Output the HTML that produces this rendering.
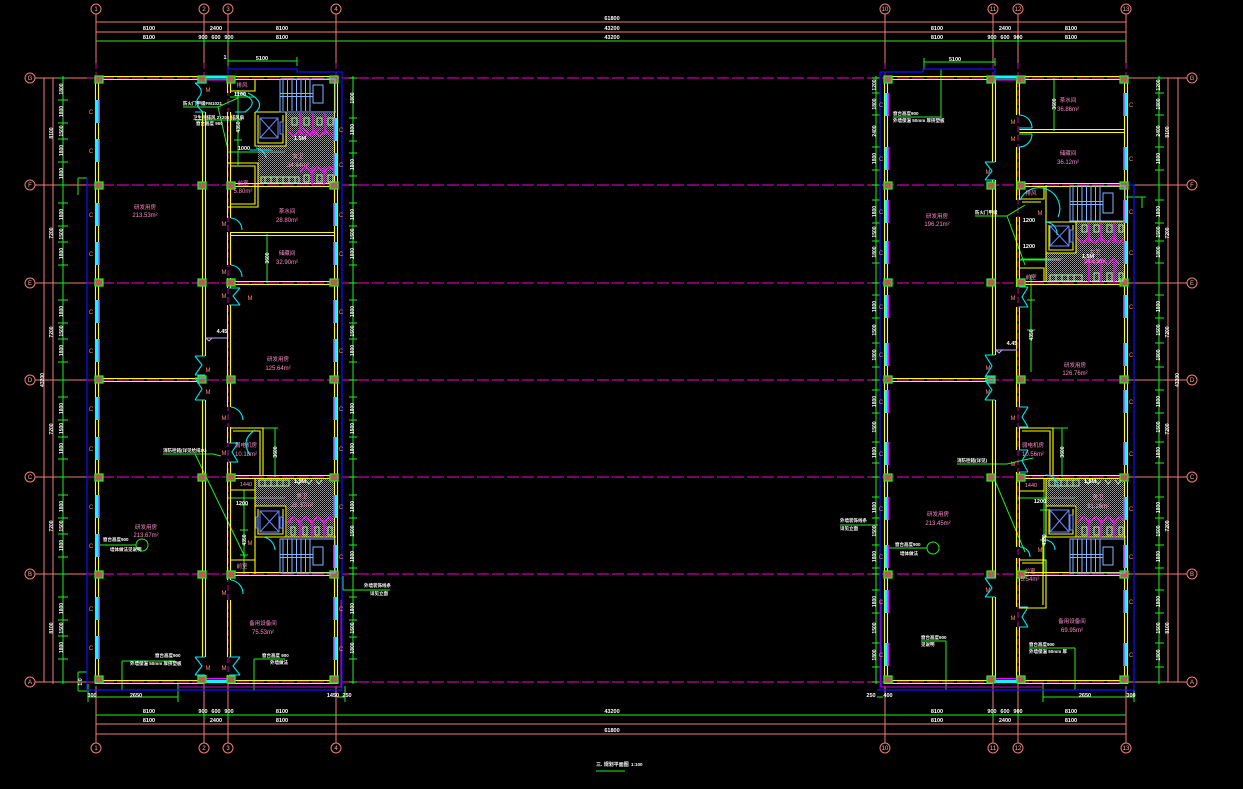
<!DOCTYPE html>
<html><head><meta charset="utf-8">
<style>
html,body{margin:0;padding:0;background:#000;width:1243px;height:789px;overflow:hidden}
svg{display:block}
text{font-family:"Liberation Sans","Noto Sans CJK SC",sans-serif}
</style></head>
<body>
<svg width="1243" height="789" viewBox="0 0 1243 789" xmlns="http://www.w3.org/2000/svg">
<defs>
<pattern id="dots" width="2" height="2" patternUnits="userSpaceOnUse"><rect width="1" height="1" fill="#a0a0a0"/><rect x="1" y="1" width="1" height="1" fill="#7a7a7a"/></pattern>
</defs>
<rect width="1243" height="789" fill="#000"/>

<!-- horizontal grid axes -->
<g stroke="#c800a8" stroke-width="1.2" stroke-dasharray="12 3" fill="none">
<path d="M87 78H1130M87 185H1130M87 283H1130M87 380H1130M87 477H1130M87 574H1130M87 682H1130"/>
</g>
<g stroke="#f07c78" stroke-width="1" fill="none">
<path d="M35 78H87M35 185H87M35 283H87M35 380H87M35 477H87M35 574H87M35 682H87"/>
<path d="M1127 78H1187M1127 185H1187M1127 283H1187M1127 380H1187M1127 477H1187M1127 574H1187M1127 682H1187"/>
<path d="M96 14V63M204 14V63M228 14V63M336 14V63M885 14V63M993 14V63M1018 14V63M1126 14V63"/>
<path d="M96 686V743M204 684V743M228 684V743M336 686V743M885 686V743M993 684V743M1018 684V743M1126 686V743"/>
<path d="M96 22H1126M96 32H1126M96 724H1126M96 734H1126"/>
<path d="M44 78V682M53 78V684M1168 78V682M1178 78V682"/>
<circle cx="96" cy="9" r="5"/><circle cx="204" cy="9" r="5"/><circle cx="228" cy="9" r="5"/><circle cx="336" cy="9" r="5"/>
<circle cx="885" cy="9" r="5"/><circle cx="993" cy="9" r="5"/><circle cx="1018" cy="9" r="5"/><circle cx="1126" cy="9" r="5"/>
<circle cx="96" cy="748" r="5"/><circle cx="204" cy="748" r="5"/><circle cx="228" cy="748" r="5"/><circle cx="336" cy="748" r="5"/>
<circle cx="885" cy="748" r="5"/><circle cx="993" cy="748" r="5"/><circle cx="1018" cy="748" r="5"/><circle cx="1126" cy="748" r="5"/>
<circle cx="30" cy="78" r="5"/><circle cx="30" cy="185" r="5"/><circle cx="30" cy="283" r="5"/><circle cx="30" cy="380" r="5"/><circle cx="30" cy="477" r="5"/><circle cx="30" cy="574" r="5"/><circle cx="30" cy="682" r="5"/>
<circle cx="1192" cy="78" r="5"/><circle cx="1192" cy="185" r="5"/><circle cx="1192" cy="283" r="5"/><circle cx="1192" cy="380" r="5"/><circle cx="1192" cy="477" r="5"/><circle cx="1192" cy="574" r="5"/><circle cx="1192" cy="682" r="5"/>
</g>
<g stroke="#c800a8" stroke-width="1" stroke-dasharray="6 3" fill="none">
<path d="M96 63V76M204 63V76M228 63V682M336 63V76M885 63V76M993 63V76M1018 63V682M1126 63V76"/>
</g>
<g fill="#f8b0a8" font-size="6" text-anchor="middle">
<text x="96" y="11">1</text><text x="204" y="11">2</text><text x="228" y="11">3</text><text x="336" y="11">4</text>
<text x="885" y="11">10</text><text x="993" y="11">11</text><text x="1018" y="11">12</text><text x="1126" y="11">13</text>
<text x="96" y="750">1</text><text x="204" y="750">2</text><text x="228" y="750">3</text><text x="336" y="750">4</text>
<text x="885" y="750">10</text><text x="993" y="750">11</text><text x="1018" y="750">12</text><text x="1126" y="750">13</text>
<text x="30" y="80">G</text><text x="30" y="187">F</text><text x="30" y="285">E</text><text x="30" y="382">D</text><text x="30" y="479">C</text><text x="30" y="576">B</text><text x="30" y="684">A</text>
<text x="1192" y="80">G</text><text x="1192" y="187">F</text><text x="1192" y="285">E</text><text x="1192" y="382">D</text><text x="1192" y="479">C</text><text x="1192" y="576">B</text><text x="1192" y="684">A</text>
</g>

<!-- green dims -->
<g stroke="#22ee22" stroke-width="1" fill="none">
<path d="M96 41H1126M96 715H1126"/>
<path d="M204 38V46M228 38V46M993 38V46M1018 38V46M204 712V720M228 712V720M993 712V720M1018 712V720"/>
<path d="M63 76V684M353 76V684M876 76V684M1159 76V684"/>
<path d="M58 78h10M58 100h10M58 123h10M58 139h10M58 162h10M58 185h10M58 203h10M58 226h10M58 242h10M58 265h10M58 283h10M58 300h10M58 323h10M58 339h10M58 362h10M58 380h10M58 397h10M58 420h10M58 437h10M58 459h10M58 477h10M58 495h10M58 518h10M58 534h10M58 557h10M58 574h10M58 597h10M58 620h10M58 636h10M58 659h10M58 682h10"/>
<path d="M349 78h8M349 118h8M349 141h8M349 153h8M349 176h8M349 185h8M349 203h8M349 226h8M349 242h8M349 265h8M349 283h8M349 300h8M349 323h8M349 339h8M349 362h8M349 380h8M349 397h8M349 420h8M349 437h8M349 459h8M349 477h8M349 495h8M349 518h8M349 545h8M349 568h8M349 574h8M349 597h8M349 620h8M349 637h8M349 659h8M349 682h8"/>
<path d="M872 78h8M872 93h8M872 115h8M872 147h8M872 170h8M872 185h8M872 200h8M872 223h8M872 241h8M872 263h8M872 283h8M872 295h8M872 318h8M872 343h8M872 367h8M872 380h8M872 390h8M872 413h8M872 442h8M872 463h8M872 477h8M872 497h8M872 518h8M872 545h8M872 568h8M872 574h8M872 590h8M872 613h8M872 643h8M872 667h8M872 682h8"/>
<path d="M1155 78h9M1155 93h9M1155 115h9M1155 147h9M1155 170h9M1155 185h9M1155 200h9M1155 223h9M1155 241h9M1155 263h9M1155 283h9M1155 295h9M1155 318h9M1155 343h9M1155 367h9M1155 380h9M1155 390h9M1155 413h9M1155 442h9M1155 463h9M1155 477h9M1155 497h9M1155 518h9M1155 545h9M1155 568h9M1155 574h9M1155 590h9M1155 613h9M1155 643h9M1155 667h9M1155 682h9"/>
<path d="M228 61H297M228 57V66M297 57V66M924 62H995M924 58V70M995 58V66"/>
<path d="M88 697H178M88 684V702M178 684V702M337 697H345M345 686V702"/>
<path d="M1043 697H1134M1043 684V702M1134 684V702M877 697H883"/>
<path d="M78 672H87M78 672V691M78 691H87M78 178H87M78 178V195"/>
<path d="M267 234V283M1054 78V131M275 428V477M263 428H278M1062 428V477M1053 428H1068"/>
<path d="M244 490V574M240 505h8M240 530h8M240 555h8M228 498H285M238 90V165M230 97H255M228 152H285M234 120h8M234 140h8"/>
<path d="M1031 275V372M1027 300h8M1027 330h8M1021 259H1062M1044 490V574M1040 510h8M1040 540h8M1018 498H1075M1020 260H1060"/>
<path d="M183 107H218L238 98M195 120H240M218 107L228 150M163 454H213L221 456M195 454L245 557"/>
<path d="M98 545H136M142 545m-6 0a6 6 0 1 0 12 0a6 6 0 1 0 -12 0M122 661H175M122 661V690M254 659H285M254 659V691M343 590H390M343 590V576"/>
<path d="M893 117H941M941 69V118M975 216H1007L1025 205M1007 216L1025 265M957 464H1007L1033 458M993 476L1025 552"/>
<path d="M840 525H878M888 548H927M933 548m-6 0a6 6 0 1 0 12 0a6 6 0 1 0 -12 0M921 641H946M946 641V690M1029 648H1075M1075 648V690"/>
<path d="M1126 197H1146M1142 197V208"/>
</g>

<!-- blue outline -->
<g stroke="#1010ff" stroke-width="1.2" fill="none">
<path d="M87 178V690H342V72H297V69H228V80"/>
<path d="M880 690V72H923V69H995V78"/>
<path d="M877 690H1134V185H1126"/>
</g>
<g stroke="#d000d0" stroke-width="1" fill="none">
<path d="M178 687H341V600M881 687H1043M881 600V687"/>
</g>

<!-- restroom dotted areas -->
<g fill="url(#dots)">
<polygon points="286,113 334,113 334,183 258,183 258,146 286,146"/>
<polygon points="255,479 334,479 334,537 287,537 287,506 255,506"/>
<polygon points="1076,223 1124,223 1124,282 1046,282 1046,253 1076,253"/>
<polygon points="1046,479 1124,479 1124,537 1077,537 1077,506 1046,506"/>
</g>

<!-- walls -->
<g stroke="#ffff00" stroke-width="1.1" fill="none">
<path d="M95.5 76.5H204M228 76.5H337.5V683.5H228M204 683.5H95.5V76.5"/>
<path d="M98.5 79.5H204M228 79.5H334.5V680.5H228M204 680.5H98.5V79.5"/>
<path d="M202.5 79.5V83M202.5 112V356M202.5 400V657M202.5 675V680.5M205.5 79.5V83M205.5 112V356M205.5 400V657M205.5 675V680.5"/>
<path d="M227.5 79.5V93M227.5 112V218M227.5 232V265M227.5 278V288M227.5 305V407M227.5 427V443M227.5 462V580M227.5 600V657M227.5 675V680.5"/>
<path d="M230.5 79.5V93M230.5 112V218M230.5 232V265M230.5 278V288M230.5 305V407M230.5 427V443M230.5 462V580M230.5 600V657M230.5 675V680.5"/>
<path d="M98.5 378.5H202.5M98.5 381.5H202.5"/>
<path d="M230.5 183.5H334.5M230.5 186.5H334.5M230.5 232.5H334.5M230.5 235.5H334.5M230.5 281.5H334.5M230.5 284.5H334.5M230.5 475.5H334.5M230.5 478.5H334.5M230.5 572.5H334.5M230.5 575.5H334.5"/>
<path d="M255 112H336M255 112V146H286V112M258 115V143H283V115"/>
<path d="M230.5 91H255V79.5M228 163H258V207H228M231 166H255V204H231"/>
<path d="M230 428H263V476M233 431H260V476M230 490H255V478M255 478V506H286V537M255 506V537H286M258 509V534H283V509"/>
<path d="M255 537H336M255 537V574M230 560H255V574"/>
<path d="M884.5 76.5H993M1018 76.5H1127.5V683.5H1018M993 683.5H884.5V76.5"/>
<path d="M887.5 79.5H993M1018 79.5H1124.5V680.5H1018M993 680.5H887.5V79.5"/>
<path d="M992.5 79.5V162M992.5 180V355M992.5 400V578M992.5 597V680.5M995.5 79.5V162M995.5 180V355M995.5 400V578M995.5 597V680.5"/>
<path d="M1016.5 79.5V115M1016.5 147V200M1016.5 217V287M1016.5 307V407M1016.5 427V450M1016.5 472V547M1016.5 558V607M1016.5 627V680.5"/>
<path d="M1019.5 79.5V115M1019.5 147V200M1019.5 217V287M1019.5 307V407M1019.5 427V450M1019.5 472V547M1019.5 558V607M1019.5 627V680.5"/>
<path d="M887.5 378.5H992.5M887.5 381.5H992.5"/>
<path d="M1019.5 129.5H1124.5M1019.5 132.5H1124.5M1019.5 183.5H1124.5M1019.5 186.5H1124.5M1019.5 281.5H1124.5M1019.5 284.5H1124.5M1019.5 475.5H1124.5M1019.5 478.5H1124.5M1019.5 572.5H1124.5M1019.5 575.5H1124.5"/>
<path d="M1046 185V282M1046 222H1126M1046 222V253H1076V222M1049 225V250H1073V225"/>
<path d="M1019 199H1044V186M1019 268H1044V282M1022 202H1041"/>
<path d="M1019 428H1053V476M1022 431H1050V476M1019 491H1044V478M1046 478V506H1076V537M1046 506V537H1076M1049 509V534H1073V509"/>
<path d="M1043 537H1126M1043 537V575M1019 560H1046V608H1019M1022 563H1043V605"/>
</g>

<g fill="#00ffff">
<rect x="205" y="75.5" width="23" height="3"/><rect x="205" y="680" width="23" height="3"/>
<rect x="995" y="75.5" width="22" height="3"/><rect x="995" y="680" width="22" height="3"/>
</g>
<g fill="#ff00ff">
<rect x="205" y="79" width="23" height="1.5"/><rect x="205" y="678" width="23" height="1.5"/>
<rect x="995" y="79" width="22" height="1.5"/><rect x="995" y="678" width="22" height="1.5"/>
</g>

<!-- windows -->
<path fill="#00ffff" d="M95 100h3.5v23h-3.5zM95 139h3.5v23h-3.5zM95 203h3.5v23h-3.5zM95 242h3.5v23h-3.5zM95 300h3.5v23h-3.5zM95 339h3.5v23h-3.5zM95 397h3.5v23h-3.5zM95 437h3.5v23h-3.5zM95 495h3.5v23h-3.5zM95 534h3.5v23h-3.5zM95 597h3.5v23h-3.5zM95 636h3.5v23h-3.5z"/>
<path fill="#ff00ff" d="M98.5 100h1.5v23h-1.5zM98.5 139h1.5v23h-1.5zM98.5 203h1.5v23h-1.5zM98.5 242h1.5v23h-1.5zM98.5 300h1.5v23h-1.5zM98.5 339h1.5v23h-1.5zM98.5 397h1.5v23h-1.5zM98.5 437h1.5v23h-1.5zM98.5 495h1.5v23h-1.5zM98.5 534h1.5v23h-1.5zM98.5 597h1.5v23h-1.5zM98.5 636h1.5v23h-1.5z"/>
<path fill="#00ffff" d="M334.5 118h3v23h-3zM334.5 153h3v23h-3zM334.5 203h3v23h-3zM334.5 242h3v23h-3zM334.5 300h3v23h-3zM334.5 339h3v23h-3zM334.5 397h3v23h-3zM334.5 437h3v23h-3zM334.5 495h3v23h-3zM334.5 545h3v23h-3zM334.5 597h3v23h-3zM334.5 637h3v23h-3z"/>
<path fill="#ff00ff" d="M333 118h1.5v23h-1.5zM333 153h1.5v23h-1.5zM333 203h1.5v23h-1.5zM333 242h1.5v23h-1.5zM333 300h1.5v23h-1.5zM333 339h1.5v23h-1.5zM333 397h1.5v23h-1.5zM333 437h1.5v23h-1.5zM333 495h1.5v23h-1.5zM333 545h1.5v23h-1.5zM333 597h1.5v23h-1.5zM333 637h1.5v23h-1.5z"/>
<path fill="#00ffff" d="M884.5 93h3v23h-3zM884.5 147h3v23h-3zM884.5 200h3v23h-3zM884.5 241h3v23h-3zM884.5 295h3v23h-3zM884.5 343h3v23h-3zM884.5 390h3v23h-3zM884.5 442h3v23h-3zM884.5 497h3v23h-3zM884.5 545h3v23h-3zM884.5 590h3v23h-3zM884.5 643h3v23h-3z"/>
<path fill="#ff00ff" d="M887.5 93h1.5v23h-1.5zM887.5 147h1.5v23h-1.5zM887.5 200h1.5v23h-1.5zM887.5 241h1.5v23h-1.5zM887.5 295h1.5v23h-1.5zM887.5 343h1.5v23h-1.5zM887.5 390h1.5v23h-1.5zM887.5 442h1.5v23h-1.5zM887.5 497h1.5v23h-1.5zM887.5 545h1.5v23h-1.5zM887.5 590h1.5v23h-1.5zM887.5 643h1.5v23h-1.5z"/>
<path fill="#00ffff" d="M1124.5 93h3v23h-3zM1124.5 147h3v23h-3zM1124.5 200h3v23h-3zM1124.5 241h3v23h-3zM1124.5 295h3v23h-3zM1124.5 343h3v23h-3zM1124.5 390h3v23h-3zM1124.5 442h3v23h-3zM1124.5 497h3v23h-3zM1124.5 545h3v23h-3zM1124.5 590h3v23h-3zM1124.5 643h3v23h-3z"/>
<path fill="#ff00ff" d="M1123 93h1.5v23h-1.5zM1123 147h1.5v23h-1.5zM1123 200h1.5v23h-1.5zM1123 241h1.5v23h-1.5zM1123 295h1.5v23h-1.5zM1123 343h1.5v23h-1.5zM1123 390h1.5v23h-1.5zM1123 442h1.5v23h-1.5zM1123 497h1.5v23h-1.5zM1123 545h1.5v23h-1.5zM1123 590h1.5v23h-1.5zM1123 643h1.5v23h-1.5z"/>

<!-- columns -->
<path fill="#b85a58" stroke="#22ee22" stroke-width="1.3" d="M95 76h8v7h-8zM198 76h8v7h-8zM227 76h8v7h-8zM330 76h8v7h-8zM95 182h8v7h-8zM198 182h8v7h-8zM227 182h8v7h-8zM330 182h8v7h-8zM95 279h8v7h-8zM198 279h8v7h-8zM227 279h8v7h-8zM330 279h8v7h-8zM95 376h8v7h-8zM198 376h8v7h-8zM227 376h8v7h-8zM330 376h8v7h-8zM95 474h8v7h-8zM198 474h8v7h-8zM227 474h8v7h-8zM330 474h8v7h-8zM95 571h8v7h-8zM198 571h8v7h-8zM227 571h8v7h-8zM330 571h8v7h-8zM95 676h8v7h-8zM198 676h8v7h-8zM227 676h8v7h-8zM330 676h8v7h-8zM884 76h8v7h-8zM987 76h8v7h-8zM1017 76h8v7h-8zM1120 76h8v7h-8zM884 182h8v7h-8zM987 182h8v7h-8zM1017 182h8v7h-8zM1120 182h8v7h-8zM884 279h8v7h-8zM987 279h8v7h-8zM1017 279h8v7h-8zM1120 279h8v7h-8zM884 376h8v7h-8zM987 376h8v7h-8zM1017 376h8v7h-8zM1120 376h8v7h-8zM884 474h8v7h-8zM987 474h8v7h-8zM1017 474h8v7h-8zM1120 474h8v7h-8zM884 571h8v7h-8zM987 571h8v7h-8zM1017 571h8v7h-8zM1120 571h8v7h-8zM884 676h8v7h-8zM987 676h8v7h-8zM1017 676h8v7h-8zM1120 676h8v7h-8z"/>

<!-- stairs -->
<g stroke="#80b4ff" stroke-width="1" fill="none">
<path d="M280 79H335V112H280ZM283 79V111M287.5 79V111M292 79V111M296.5 79V111M301 79V111M305.5 79V111M310 79V111"/>
<rect x="280" y="93.5" width="33" height="3"/><rect x="313" y="85" width="10" height="18"/>
<path d="M280 539H335V573H280ZM283 539V573M287.5 539V573M292 539V573M296.5 539V573M301 539V573M305.5 539V573M310 539V573"/>
<rect x="280" y="554.5" width="33" height="3"/><rect x="313" y="547" width="10" height="18"/>
<path d="M1070 186H1125V221H1070ZM1073 186V221M1077.5 186V221M1082 186V221M1086.5 186V221M1091 186V221M1095.5 186V221M1100 186V221"/>
<rect x="1070" y="201.5" width="33" height="3"/><rect x="1103" y="193" width="10" height="20"/>
<path d="M1070 539H1125V573H1070ZM1073 539V573M1077.5 539V573M1082 539V573M1086.5 539V573M1091 539V573M1095.5 539V573M1100 539V573"/>
<rect x="1070" y="554.5" width="33" height="3"/><rect x="1103" y="547" width="10" height="18"/>
</g>
<g stroke="#6a86ff" stroke-width="1" fill="none">
<path d="M260 118h18v20h-18zM260 118L278 138M278 118L260 138M280 122h3v12h-3z"/>
<path d="M260 511h19v21h-19zM260 511L279 532M279 511L260 532M280 517h2.5v11h-2.5zM256 517h2v11h-2z"/>
<path d="M1050 226h19v20h-19zM1050 226L1069 246M1069 226L1050 246M1070 230h3v12h-3z"/>
<path d="M1050 510h19v22h-19zM1050 510L1069 532M1069 510L1050 532M1070 515h3v15h-3z"/>
</g>

<!-- toilets -->
<g stroke="#a8f0a0" stroke-width="1" fill="none">
<path d="M292 118h5v7h-5zM304 118h5v7h-5zM317 118h5v7h-5zM328 118h5v7h-5zM304 175h5v7h-5zM317 175h5v7h-5zM328 175h5v7h-5z"/>
<path d="M261 177h38v6h-38zM265 177v6M271 177v6M277 177v6M283 177v6M289 177v6M295 177v6"/>
<path d="M291 527h4v8h-4zM303 527h4v8h-4zM315 527h4v8h-4zM328 527h4v8h-4zM259 480h30v6h-30zM265 480v6M271 480v6M277 480v6M283 480v6M296 480l3 4l3-4M306 480l3 4l3-4M316 480l3 4l3-4"/>
<path d="M1082 225h5v7h-5zM1094 225h5v7h-5zM1107 225h5v7h-5zM1119 225h4v7h-4zM1094 273h5v8h-5zM1107 273h5v8h-5zM1119 273h4v8h-4z"/>
<path d="M1050 275h32v6h-32zM1056 275v6M1062 275v6M1068 275v6M1074 275v6"/>
<path d="M1082 527h5v8h-5zM1094 527h5v8h-5zM1107 527h5v8h-5zM1119 527h4v8h-4zM1049 480h30v6h-30zM1055 480v6M1061 480v6M1067 480v6M1073 480v6M1085 480l3 4l3-4M1095 480l3 4l3-4M1105 480l3 4l3-4M1115 480l3 4l3-4"/>
</g>
<g stroke="#ff00ff" stroke-width="1.4" fill="none">
<path d="M300 113V134M313 113V134M325 113V134M287 131l6.5 5l6.5-5l6.5 5l6.5-5l6.5 5l6.5-5l6.5 5"/>
<path d="M312 167V185M324 167V185M300 172l6-5l6 5l6-5l6 5l6-5l4 4"/>
<path d="M287 522l6-5l6 5l6-5l6 5l6-5l6 5l6-5l4 4M300 520V537M312 520V537M324 520V537M287 522H292"/>
<path d="M1089 223V243M1101 223V243M1114 223V243M1077 238l6 5l6-5l6 5l6-5l6 5l6-5l6 5l5-4"/>
<path d="M1089 262V282M1101 262V282M1114 262V282M1083 264l6-5l6 5l6-5l6 5l6-5l6 5"/>
<path d="M1077 522l6-5l6 5l6-5l6 5l6-5l6 5l6-5l5 4M1089 520V537M1101 520V537M1114 520V537"/>
<path d="M303 128l8 8l8-8"/>
</g>
<g stroke="#c8a0ff" stroke-width="1" fill="none">
<path d="M205 338H227M206 338l3 3l3-3M995 350H1017M996 350l3 3l3-3"/>
</g>

<!-- doors -->
<g stroke="#00e8f0" stroke-width="1.1" fill="none">
<path d="M195 83H205M195 112H205M195 83Q205 90 199 97Q193 104 203 112"/>
<path d="M195 356H205M195 375H205M195 356L202 365L195 375M195 378H205M195 400H205M195 378L202 389L195 400"/>
<path d="M195 657H205M195 675H205M195 657L202 666L195 675"/>
<path d="M235 93H246M235 112H246M239 93Q262 100 245 112M248 93Q266 102 256 112"/>
<path d="M231 218A12 12 0 0 1 242 230M231 265A12 12 0 0 1 242 277"/>
<path d="M229 288H240M229 305H240M240 288L233 296L240 305"/>
<path d="M231 407A14 14 0 0 1 243 420M229 443H238M229 462H238M238 443L232 452L238 462"/>
<path d="M231 580A14 14 0 0 1 243 594M229 657H240M229 675H240M240 657L233 666L240 675"/>
<path d="M256 148A12 12 0 0 1 266 158M255 430Q240 440 250 455M263 537A14 14 0 0 1 275 550"/>
<path d="M250 150H272"/>
<path d="M985 162H995M985 180H995M985 162L992 171L985 180"/>
<path d="M985 355H995M985 377H995M985 355L992 366L985 377M985 380H995M985 400H995M985 380L992 390L985 400"/>
<path d="M985 578H995M985 597H995M985 578L992 588L985 597"/>
<path d="M1019 115A13 13 0 0 1 1032 128M1019 128H1032M1019 147A13 13 0 0 0 1032 134M1019 134H1032"/>
<path d="M1020 200A18 18 0 0 1 1058 217M1019 287H1028M1019 307H1028M1028 287L1022 297L1028 307"/>
<path d="M1019 407H1028M1019 427H1028M1028 407L1022 417L1028 427M1019 450H1028M1019 472H1028M1028 450L1022 461L1028 472"/>
<path d="M1020 547A10 10 0 0 1 1030 557M1019 607H1028M1019 627H1028M1028 607L1022 617L1028 627"/>
<path d="M1045 222A12 12 0 0 1 1057 235M1046 475A12 12 0 0 1 1058 488M1045 540A10 10 0 0 1 1055 550M1044 260H1052"/>
</g>

<!-- salmon marks -->
<g fill="#ff8078" font-size="6" text-anchor="middle">
<text><tspan x="91" y="114">C</tspan><tspan x="91" y="153">C</tspan><tspan x="91" y="217">C</tspan><tspan x="91" y="256">C</tspan><tspan x="91" y="314">C</tspan><tspan x="91" y="353">C</tspan><tspan x="91" y="411">C</tspan><tspan x="91" y="451">C</tspan><tspan x="91" y="509">C</tspan><tspan x="91" y="548">C</tspan><tspan x="91" y="611">C</tspan><tspan x="91" y="650">C</tspan></text>
<text><tspan x="341" y="132">C</tspan><tspan x="341" y="167">C</tspan><tspan x="341" y="217">C</tspan><tspan x="341" y="256">C</tspan><tspan x="341" y="314">C</tspan><tspan x="341" y="353">C</tspan><tspan x="341" y="411">C</tspan><tspan x="341" y="451">C</tspan><tspan x="341" y="509">C</tspan><tspan x="341" y="559">C</tspan><tspan x="341" y="611">C</tspan><tspan x="341" y="651">C</tspan></text>
<text><tspan x="881" y="107">C</tspan><tspan x="881" y="161">C</tspan><tspan x="881" y="214">C</tspan><tspan x="881" y="255">C</tspan><tspan x="881" y="309">C</tspan><tspan x="881" y="357">C</tspan><tspan x="881" y="404">C</tspan><tspan x="881" y="456">C</tspan><tspan x="881" y="511">C</tspan><tspan x="881" y="559">C</tspan><tspan x="881" y="604">C</tspan><tspan x="881" y="657">C</tspan></text>
<text><tspan x="1131" y="107">C</tspan><tspan x="1131" y="161">C</tspan><tspan x="1131" y="214">C</tspan><tspan x="1131" y="255">C</tspan><tspan x="1131" y="309">C</tspan><tspan x="1131" y="357">C</tspan><tspan x="1131" y="404">C</tspan><tspan x="1131" y="456">C</tspan><tspan x="1131" y="511">C</tspan><tspan x="1131" y="559">C</tspan><tspan x="1131" y="604">C</tspan><tspan x="1131" y="657">C</tspan></text>
<text><tspan x="208" y="92">M</tspan><tspan x="208" y="372">M</tspan><tspan x="208" y="394">M</tspan><tspan x="208" y="670">M</tspan><tspan x="224" y="226">M</tspan><tspan x="224" y="274">M</tspan><tspan x="224" y="298">M</tspan><tspan x="224" y="420">M</tspan><tspan x="224" y="455">M</tspan><tspan x="224" y="595">M</tspan><tspan x="224" y="670">M</tspan><tspan x="250" y="300">M</tspan><tspan x="250" y="545">M</tspan></text>
<text><tspan x="988" y="174">M</tspan><tspan x="988" y="370">M</tspan><tspan x="988" y="394">M</tspan><tspan x="988" y="592">M</tspan><tspan x="1013" y="124">M</tspan><tspan x="1013" y="141">M</tspan><tspan x="1013" y="300">M</tspan><tspan x="1013" y="420">M</tspan><tspan x="1013" y="466">M</tspan><tspan x="1013" y="620">M</tspan><tspan x="1040" y="215">M</tspan><tspan x="1040" y="552">M</tspan></text>
</g>

<!-- room labels -->
<g fill="#ff8ac8" text-anchor="middle">
<g font-size="5.5">
<text x="145" y="209">研发用房</text><text x="298" y="158">女卫</text><text x="243" y="185">前室</text>
<text x="287" y="213">茶水间</text><text x="287" y="255">储藏间</text><text x="278" y="361">研发用房</text>
<text x="146" y="529">研发用房</text><text x="246" y="447">弱电机房</text><text x="302" y="498">男卫</text><text x="263" y="625">备用设备间</text>
<text x="937" y="218">研发用房</text><text x="1068" y="102">茶水间</text><text x="1068" y="155">储藏间</text><text x="1095" y="254">女卫</text>
<text x="1075" y="367">研发用房</text><text x="938" y="516">研发用房</text><text x="1033" y="447">弱电机房</text><text x="1098" y="499">男卫</text>
<text x="1030" y="573">前室</text><text x="1072" y="623">备用设备间</text>
<text x="242" y="87">排风</text><text x="246" y="486">1440</text><text x="1031" y="195">排风</text><text x="1031" y="487">1440</text><text x="242" y="568">前室</text><text x="1031" y="279">前室</text>
</g>
<g font-size="6">
<text x="145" y="217">213.53m²</text><text x="298" y="167">34.44m²</text><text x="243" y="193">5.80m²</text>
<text x="287" y="222">28.80m²</text><text x="287" y="264">32.90m²</text><text x="278" y="370">125.64m²</text>
<text x="146" y="537">213.67m²</text><text x="246" y="456">10.18m²</text><text x="302" y="507">28.37m²</text><text x="263" y="634">75.53m²</text>
<text x="937" y="226">196.21m²</text><text x="1068" y="111">36.86m²</text><text x="1068" y="164">36.12m²</text><text x="1095" y="263">24.83m²</text>
<text x="1075" y="375">126.76m²</text><text x="938" y="525">213.45m²</text><text x="1033" y="456">10.56m²</text><text x="1098" y="508">31.16m²</text>
<text x="1030" y="581">5.54m²</text><text x="1072" y="632">69.95m²</text>
</g>
</g>

<!-- white dimension text -->
<g fill="#fff" font-size="5.5" font-weight="bold" text-anchor="middle">
<text x="612" y="20">61800</text>
<text x="149" y="30">8100</text><text x="216" y="30">2400</text><text x="282" y="30">8100</text><text x="612" y="30">43200</text><text x="937" y="30">8100</text><text x="1005" y="30">2400</text><text x="1071" y="30">8100</text>
<text x="149" y="39">8100</text><text x="203" y="39">900</text><text x="216" y="39">600</text><text x="229" y="39">900</text><text x="282" y="39">8100</text><text x="612" y="39">43200</text><text x="937" y="39">8100</text><text x="992" y="39">900</text><text x="1005" y="39">600</text><text x="1018" y="39">900</text><text x="1071" y="39">8100</text>
<text x="262" y="60">5100</text><text x="955" y="61">5100</text><text x="225" y="59">1</text>
<text x="149" y="713">8100</text><text x="203" y="713">900</text><text x="216" y="713">600</text><text x="229" y="713">900</text><text x="282" y="713">8100</text><text x="612" y="713">43200</text><text x="937" y="713">8100</text><text x="992" y="713">900</text><text x="1005" y="713">600</text><text x="1018" y="713">900</text><text x="1071" y="713">8100</text>
<text x="149" y="722">8100</text><text x="216" y="722">2400</text><text x="282" y="722">8100</text><text x="937" y="722">8100</text><text x="1005" y="722">2400</text><text x="1071" y="722">8100</text>
<text x="612" y="732">61800</text>
<text x="92" y="697">300</text><text x="136" y="697">2650</text><text x="333" y="697">1450</text><text x="347" y="697">250</text>
<text x="871" y="697">250</text><text x="888" y="697">400</text><text x="1085" y="697">2650</text><text x="1131" y="697">300</text>
<text x="244" y="150">1000</text><text x="240" y="96">1100</text><text x="300" y="140">1.5M</text><text x="1088" y="258">1.5M</text><text x="300" y="483">1.5M</text><text x="1090" y="483">1.5M</text>
<text x="222" y="333">4.45</text><text x="1012" y="345">4.45</text><text x="242" y="505">1200</text><text x="1040" y="503">1200</text>
<text x="1029" y="222">1200</text><text x="1029" y="248">1200</text>
</g>
<g fill="#fff" font-size="4.5" font-weight="bold">
<text x="183" y="105">防火门甲级FM1021</text><text x="193" y="119">卫生间排风 2×200 排风扇</text><text x="196" y="125">窗台高度 900</text>
<text x="163" y="452">消防栓箱(详见给排水)</text><text x="103" y="541">窗台高度900</text><text x="110" y="551">墙体做法见说明</text>
<text x="155" y="657">窗台高度900</text><text x="130" y="665">外墙保温 50mm 厚挤塑板</text>
<text x="262" y="657">窗台高度 900</text><text x="270" y="664">外墙做法</text>
<text x="364" y="587">外墙装饰线条</text><text x="370" y="595">详见立面</text>
<text x="893" y="115">窗台高度900</text><text x="893" y="122">外墙保温 50mm 厚挤塑板</text>
<text x="975" y="214">防火门甲级</text><text x="957" y="462">消防栓箱(详见)</text>
<text x="840" y="522">外墙装饰线条</text><text x="840" y="530">详见立面</text>
<text x="895" y="546">窗台高度900</text><text x="900" y="555">墙体做法</text>
<text x="921" y="639">窗台高度900</text><text x="921" y="646">见说明</text>
<text x="1029" y="646">窗台高度900</text><text x="1029" y="653">外墙保温 50mm 厚</text>
</g>
<g transform="rotate(-90)" fill="#fff" font-size="5" font-weight="bold" text-anchor="middle">
<text><tspan x="-89" y="63">1800</tspan><tspan x="-111.5" y="63">1800</tspan><tspan x="-131" y="63">1500</tspan><tspan x="-150.5" y="63">1800</tspan><tspan x="-173.5" y="63">1800</tspan><tspan x="-214.5" y="63">1800</tspan><tspan x="-234" y="63">1500</tspan><tspan x="-253.5" y="63">1800</tspan><tspan x="-311.5" y="63">1800</tspan><tspan x="-331" y="63">1500</tspan><tspan x="-350.5" y="63">1800</tspan><tspan x="-408.5" y="63">1800</tspan><tspan x="-428.5" y="63">1500</tspan><tspan x="-448.5" y="63">1800</tspan><tspan x="-506.5" y="63">1800</tspan><tspan x="-526" y="63">1500</tspan><tspan x="-545.5" y="63">1800</tspan><tspan x="-608.5" y="63">1800</tspan><tspan x="-628" y="63">1500</tspan><tspan x="-647.5" y="63">1800</tspan></text>
<text><tspan x="-133" y="53">8100</tspan><tspan x="-233" y="53">7200</tspan><tspan x="-332" y="53">7200</tspan><tspan x="-429" y="53">7200</tspan><tspan x="-526" y="53">7200</tspan><tspan x="-628" y="53">8100</tspan><tspan x="-380" y="44">43200</tspan></text>
<text><tspan x="-98" y="354">1800</tspan><tspan x="-129.5" y="354">1800</tspan><tspan x="-164.5" y="354">1800</tspan><tspan x="-214.5" y="354">1800</tspan><tspan x="-234" y="354">1500</tspan><tspan x="-253.5" y="354">1800</tspan><tspan x="-311.5" y="354">1800</tspan><tspan x="-331" y="354">1500</tspan><tspan x="-350.5" y="354">1800</tspan><tspan x="-408.5" y="354">1800</tspan><tspan x="-428.5" y="354">1500</tspan><tspan x="-448.5" y="354">1800</tspan><tspan x="-506.5" y="354">1800</tspan><tspan x="-531" y="354">1500</tspan><tspan x="-556.5" y="354">1800</tspan><tspan x="-608.5" y="354">1800</tspan><tspan x="-628" y="354">1500</tspan><tspan x="-648" y="354">1800</tspan></text>
<text><tspan x="-85" y="876">1200</tspan><tspan x="-104" y="876">1800</tspan><tspan x="-131" y="876">2400</tspan><tspan x="-158.5" y="876">1800</tspan><tspan x="-211.5" y="876">1800</tspan><tspan x="-232" y="876">1500</tspan><tspan x="-252" y="876">1800</tspan><tspan x="-306.5" y="876">1800</tspan><tspan x="-330" y="876">1500</tspan><tspan x="-355" y="876">1800</tspan><tspan x="-401.5" y="876">1800</tspan><tspan x="-427" y="876">1500</tspan><tspan x="-452.5" y="876">1800</tspan><tspan x="-507.5" y="876">1800</tspan><tspan x="-531" y="876">1500</tspan><tspan x="-556.5" y="876">1800</tspan><tspan x="-601.5" y="876">1800</tspan><tspan x="-628" y="876">1500</tspan><tspan x="-655" y="876">1800</tspan></text>
<text><tspan x="-85" y="1160">1200</tspan><tspan x="-104" y="1160">1800</tspan><tspan x="-131" y="1160">2400</tspan><tspan x="-158.5" y="1160">1800</tspan><tspan x="-211.5" y="1160">1800</tspan><tspan x="-232" y="1160">1500</tspan><tspan x="-252" y="1160">1800</tspan><tspan x="-306.5" y="1160">1800</tspan><tspan x="-330" y="1160">1500</tspan><tspan x="-355" y="1160">1800</tspan><tspan x="-401.5" y="1160">1800</tspan><tspan x="-427" y="1160">1500</tspan><tspan x="-452.5" y="1160">1800</tspan><tspan x="-507.5" y="1160">1800</tspan><tspan x="-531" y="1160">1500</tspan><tspan x="-556.5" y="1160">1800</tspan><tspan x="-601.5" y="1160">1800</tspan><tspan x="-628" y="1160">1500</tspan><tspan x="-655" y="1160">1800</tspan></text>
<text><tspan x="-132" y="1169">8100</tspan><tspan x="-233" y="1169">7200</tspan><tspan x="-332" y="1169">7200</tspan><tspan x="-429" y="1169">7200</tspan><tspan x="-526" y="1169">7200</tspan><tspan x="-628" y="1169">8100</tspan><tspan x="-380" y="1179">43200</tspan></text>
<text><tspan x="-258" y="269">3600</tspan><tspan x="-104" y="1056">3600</tspan><tspan x="-452" y="277">3600</tspan><tspan x="-452" y="1064">3600</tspan><tspan x="-127" y="240">4350</tspan><tspan x="-540" y="246">4350</tspan><tspan x="-335" y="1033">4350</tspan><tspan x="-540" y="1046">4350</tspan><tspan x="-682" y="82">1:0</tspan></text>
</g>

<!-- title -->
<text x="596" y="766" fill="#fff" font-size="5" font-weight="bold">三. 规划平面图</text>
<text x="631" y="766" fill="#fff" font-size="4.5" font-weight="bold">1:100</text>
<path d="M596 771H625" stroke="#22ee22" stroke-width="1"/>
</svg>
</body></html>
